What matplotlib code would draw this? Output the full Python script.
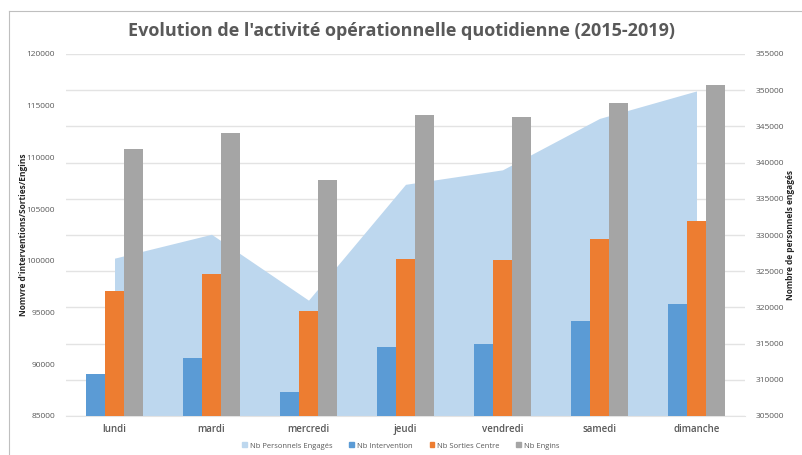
import numpy as np
import matplotlib
matplotlib.use("Agg")
import matplotlib.pyplot as plt
from matplotlib.lines import Line2D
from matplotlib.patches import Patch

# --- Data ---------------------------------------------------------------------
days = ["lundi", "mardi", "mercredi", "jeudi", "vendredi", "samedi", "dimanche"]

nb_personnels = [326800, 330100, 321000, 337000, 339000, 346100, 349900]
nb_intervention = [89060, 90580, 87350, 91680, 91940, 94160, 95840]
nb_sorties = [97100, 98710, 95190, 100160, 100100, 102150, 103900]
nb_engins = [110810, 112350, 107770, 114060, 113870, 115220, 117030]

left_ticks = list(range(85000, 120001, 5000))
right_ticks = list(range(305000, 355001, 5000))

# --- Style --------------------------------------------------------------------
C_AREA = "#bdd7ee"
C_BLUE = "#5b9bd5"
C_ORANGE = "#ed7d31"
C_GRAY = "#a5a5a5"
C_TEXT = "#595959"
C_GRID = "#e3e3e3"

plt.rcParams["font.family"] = ["Open Sans", "DejaVu Sans"]

fig = plt.figure(figsize=(8.02, 4.55), dpi=100)
W, H = 802, 455
ax = fig.add_axes([66 / W, 1 - 416 / H, (745 - 66) / W, (416 - 54) / H])
ax2 = ax.twinx()

# area (secondary axis) drawn behind the bars
x = np.arange(len(days))
ax2.fill_between(x, right_ticks[0], nb_personnels, color=C_AREA, lw=0, zorder=2)
ax2.set_ylim(right_ticks[0], right_ticks[-1])
ax2.set_yticks(right_ticks)
ax2.yaxis.grid(True, color=C_GRID, lw=1, zorder=0)
ax2.set_axisbelow(True)

ax.set_zorder(ax2.get_zorder() + 1)
ax.patch.set_visible(False)

bw = 0.195
ax.bar(x - bw, nb_intervention, bw, color=C_BLUE, zorder=3)
ax.bar(x, nb_sorties, bw, color=C_ORANGE, zorder=3)
ax.bar(x + bw, nb_engins, bw, color=C_GRAY, zorder=3)
ax.set_ylim(left_ticks[0], left_ticks[-1])
ax.set_yticks(left_ticks)
ax.set_xlim(-0.5, len(days) - 0.5)
ax.set_xticks(x)
ax.set_xticklabels(days)

for a in (ax, ax2):
    for s in a.spines.values():
        s.set_visible(False)
    a.tick_params(length=0, labelsize=6, labelcolor=C_TEXT)
ax.tick_params(axis="y", pad=8)
ax2.tick_params(axis="y", pad=8)
ax.tick_params(axis="x", labelsize=7, pad=6)
for lbl in ax.get_xticklabels():
    lbl.set_fontweight("semibold")
ax.spines["bottom"].set_visible(True)
ax.spines["bottom"].set_color(C_GRID)

ax.set_ylabel("Nomvre d'interventions/Sorties/Engins", fontsize=6,
              fontweight="bold", color="#262626", labelpad=-1)
ax2.set_ylabel("Nombre de personnels engagés", fontsize=6,
               fontweight="bold", color="#262626", labelpad=1)

fig.text(0.5, 1 - 31 / H, "Evolution de l'activité opérationnelle quotidienne (2015-2019)",
         ha="center", va="center", fontsize=13, fontweight="bold", color=C_TEXT)

handles = [Patch(color=C_AREA), Patch(color=C_BLUE),
           Patch(color=C_ORANGE), Patch(color=C_GRAY)]
labels = ["Nb Personnels Engagés", "Nb Intervention", "Nb Sorties Centre", "Nb Engins"]
leg = fig.legend(handles, labels, loc="center", bbox_to_anchor=(0.5, 1 - 446 / H),
                 ncol=4, frameon=False, fontsize=5.5, handlelength=0.6,
                 handleheight=0.6, columnspacing=2.2, handletextpad=0.4)
for t in leg.get_texts():
    t.set_color(C_TEXT)

# chart frame (top and left edges visible)
fig.add_artist(Line2D([9 / W, 1], [1 - 11 / H, 1 - 11 / H], color="#bfbfbf", lw=0.8))
fig.add_artist(Line2D([9 / W, 9 / W], [1 - 11 / H, 0], color="#bfbfbf", lw=0.8))

fig.savefig("out.png", dpi=100)
